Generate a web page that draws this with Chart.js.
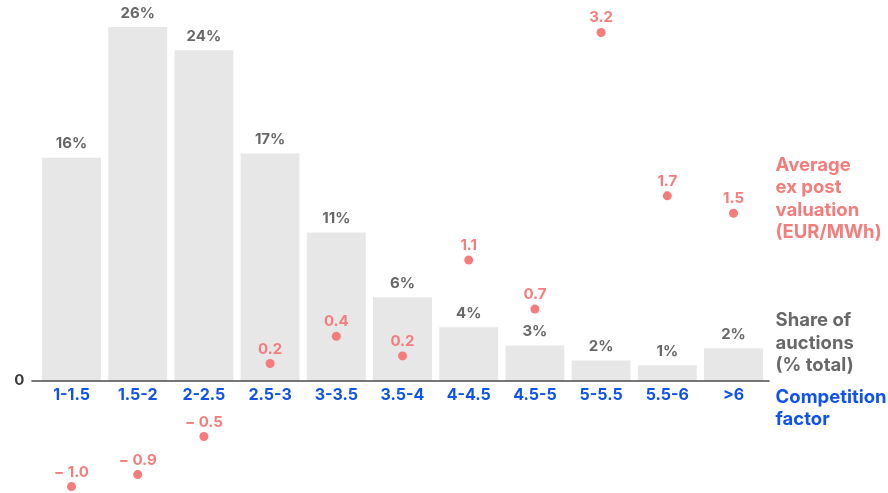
<!DOCTYPE html>
<html>
<head>
<meta charset="utf-8">
<script src="https://cdn.jsdelivr.net/npm/chart.js@4.4.1/dist/chart.umd.min.js"></script>
<style>
  html, body { margin:0; padding:0; background:#fff; }
  #wrap { width:888px; height:493px; position:relative; }
</style>
</head>
<body>
<div id="wrap"><canvas id="chart" width="888" height="493"></canvas></div>
<script>
// ===== Data =====
const CATEGORIES = ['1-1.5','1.5-2','2-2.5','2.5-3','3-3.5','3.5-4','4-4.5','4.5-5','5-5.5','5.5-6','>6'];
const SHARE      = [16.4, 26.0, 24.3, 16.7, 10.9, 6.15, 3.95, 2.6, 1.5, 1.15, 2.4];      // % of auctions
const VALUATION  = [-0.97, -0.86, -0.51, 0.16, 0.41, 0.23, 1.11, 0.66, 3.2, 1.7, 1.54]; // EUR/MWh
const Y_TICKS    = [0];

const GRAY = '#686868', SALMON = '#f47d7b', BLUE = '#0f52ec', BAR = '#e7e7e7';
const FONT = 'Inter, "Noto Sans", sans-serif';

const Y_MAX = 27.25;   // share axis top
const Y_MIN = -7.9;    // room for the negative valuation dots
const RATIO = 8;       // 1 EUR/MWh == 8 % on screen

const fmtVal = v => (v < 0 ? '\u2212 ' : '') + Math.abs(v).toFixed(1);

// labels over bars / dots, zero axis, category labels, side legend
const decor = {
  id:'decor',
  afterDatasetsDraw(chart){
    const { ctx, chartArea:a, scales } = chart;
    const y0 = scales.y.getPixelForValue(0);
    ctx.save();
    ctx.strokeStyle = '#4a4a4a';
    ctx.lineWidth = 1.5;
    ctx.beginPath();
    ctx.moveTo(a.left - 7, y0);
    ctx.lineTo(a.right + 3, y0);
    ctx.stroke();

    ctx.textBaseline = 'middle';
    ctx.textAlign = 'right';
    ctx.font = `700 15px ${FONT}`;
    ctx.fillStyle = '#3d3d3d';
    Y_TICKS.forEach(v => ctx.fillText(String(v), a.left - 14, scales.y.getPixelForValue(v)));

    ctx.textAlign = 'center';
    ctx.fillStyle = GRAY;
    chart.getDatasetMeta(0).data.forEach((el, i) => {
      ctx.fillText(Math.round(SHARE[i]) + '%', el.x, el.y - 14);
    });
    ctx.fillStyle = SALMON;
    chart.getDatasetMeta(1).data.forEach((el, i) => {
      ctx.fillText(fmtVal(VALUATION[i]), el.x, el.y - 14.5);
    });

    ctx.font = `700 16px ${FONT}`;
    ctx.fillStyle = BLUE;
    CATEGORIES.forEach((c, i) => ctx.fillText(c, scales.x.getPixelForValue(i), y0 + 14.5));

    ctx.textAlign = 'left';
    ctx.textBaseline = 'alphabetic';
    ctx.font = `700 18.5px ${FONT}`;
    const x = a.right + 9;
    const block = (lines, color, base) => {
      ctx.fillStyle = color;
      lines.forEach((t, k) => ctx.fillText(t, x, base + k * 22.5));
    };
    block(['Average','ex post','valuation','(EUR/MWh)'], SALMON, 170.5);
    block(['Share of','auctions','(% total)'], GRAY, 326);
    block(['Competition','factor'], BLUE, 402.5);
    ctx.restore();
  }
};

new Chart(document.getElementById('chart').getContext('2d'), {
  data:{
    labels:CATEGORIES,
    datasets:[
      { type:'bar', data:SHARE, yAxisID:'y', backgroundColor:BAR, borderWidth:0,
        categoryPercentage:1, barPercentage:0.89, order:2 },
      { type:'line', data:VALUATION, yAxisID:'y1', showLine:false, clip:false,
        pointRadius:4.5, pointBackgroundColor:SALMON, pointBorderWidth:0, order:1 }
    ]
  },
  options:{
    responsive:false, animation:false,
    layout:{ padding:{ top:10, right:121.4, bottom:1, left:38.4 } },
    plugins:{ legend:{display:false}, tooltip:{enabled:false} },
    scales:{
      x:{ display:false },
      y:{ display:false, min:Y_MIN, max:Y_MAX },
      y1:{ display:false, min:Y_MIN / RATIO, max:Y_MAX / RATIO }
    }
  },
  plugins:[decor]
});
</script>
</body>
</html>
